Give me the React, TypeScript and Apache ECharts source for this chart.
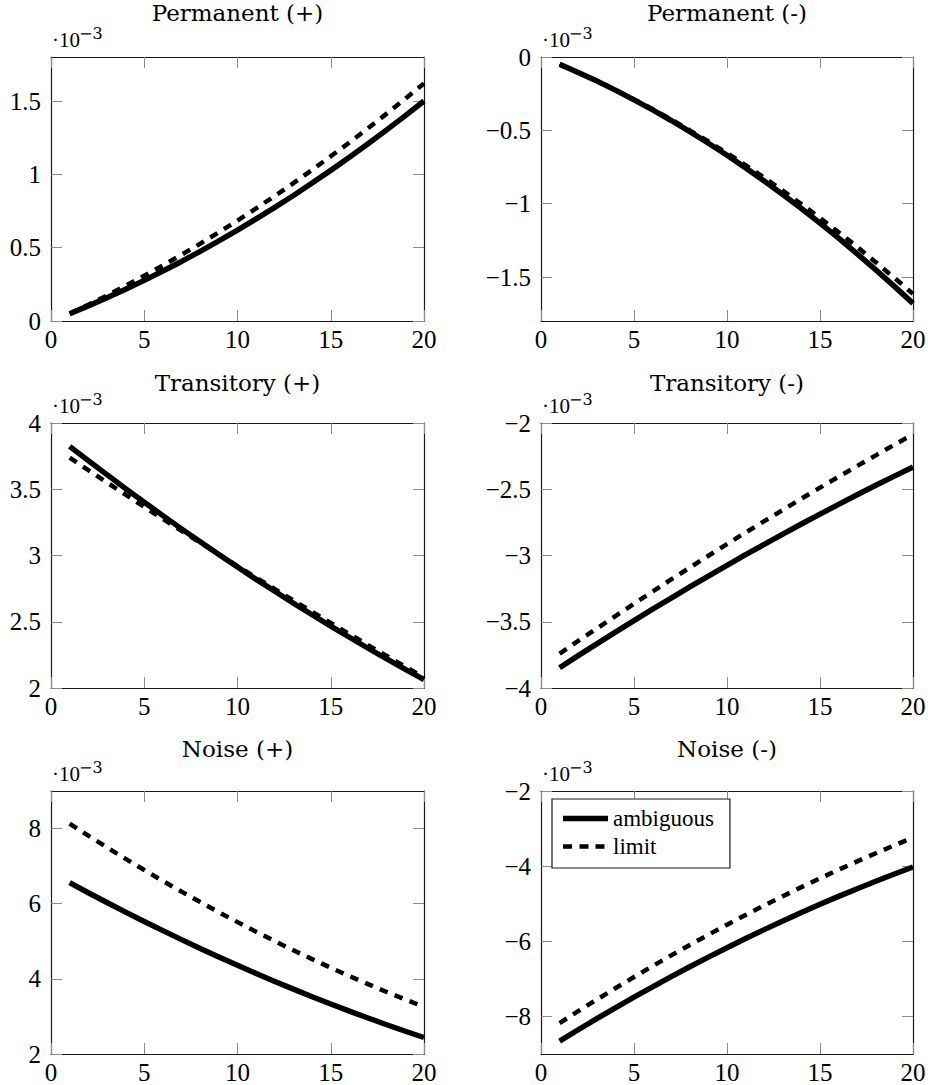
import React, { useEffect, useRef } from "react";
import * as echarts from "echarts";

// ---------- data (values in units of 10^-3) ----------
const xValues = [1, 2, 3, 4, 5, 6, 7, 8, 9, 10, 11, 12, 13, 14, 15, 16, 17, 18, 19, 20];
const xTicks = [0, 5, 10, 15, 20];

const titles = ["Permanent (+)", "Permanent (-)", "Transitory (+)", "Transitory (-)", "Noise (+)", "Noise (-)"];
const seriesNames = ["ambiguous", "limit"];

const permanentPosAmbiguous = [0.050, 0.103, 0.158, 0.217, 0.277, 0.341, 0.406, 0.475, 0.546, 0.620, 0.696, 0.775, 0.856, 0.941, 1.027, 1.117, 1.208, 1.303, 1.400, 1.500];
const permanentPosLimit = [0.050, 0.111, 0.174, 0.240, 0.308, 0.379, 0.452, 0.527, 0.605, 0.685, 0.768, 0.853, 0.940, 1.030, 1.123, 1.217, 1.314, 1.414, 1.516, 1.620];
const permanentNegAmbiguous = [-0.050, -0.105, -0.164, -0.226, -0.292, -0.361, -0.433, -0.509, -0.588, -0.670, -0.756, -0.845, -0.938, -1.033, -1.133, -1.235, -1.342, -1.451, -1.564, -1.680];
const permanentNegLimit = [-0.050, -0.105, -0.163, -0.224, -0.289, -0.356, -0.426, -0.500, -0.576, -0.655, -0.738, -0.823, -0.911, -1.003, -1.097, -1.195, -1.295, -1.399, -1.506, -1.615];
const transitoryPosAmbiguous = [3.824, 3.716, 3.610, 3.505, 3.402, 3.301, 3.201, 3.104, 3.008, 2.913, 2.820, 2.730, 2.640, 2.553, 2.467, 2.383, 2.300, 2.220, 2.141, 2.063];
const transitoryPosLimit = [3.738, 3.644, 3.551, 3.459, 3.367, 3.276, 3.186, 3.097, 3.008, 2.920, 2.833, 2.746, 2.660, 2.575, 2.491, 2.407, 2.324, 2.242, 2.161, 2.080];
const transitoryNegAmbiguous = [-3.847, -3.756, -3.667, -3.578, -3.491, -3.405, -3.321, -3.237, -3.155, -3.074, -2.994, -2.916, -2.838, -2.762, -2.688, -2.614, -2.542, -2.470, -2.401, -2.332];
const transitoryNegLimit = [-3.741, -3.645, -3.551, -3.457, -3.364, -3.272, -3.181, -3.091, -3.002, -2.914, -2.827, -2.741, -2.656, -2.571, -2.488, -2.406, -2.324, -2.244, -2.164, -2.086];
const noisePosAmbiguous = [6.560, 6.293, 6.032, 5.777, 5.527, 5.283, 5.044, 4.810, 4.582, 4.360, 4.143, 3.932, 3.726, 3.525, 3.331, 3.141, 2.958, 2.779, 2.606, 2.439];
const noisePosLimit = [8.130, 7.811, 7.499, 7.194, 6.896, 6.605, 6.321, 6.044, 5.773, 5.510, 5.253, 5.004, 4.761, 4.525, 4.296, 4.074, 3.859, 3.651, 3.449, 3.255];
const noiseNegAmbiguous = [-8.657, -8.355, -8.059, -7.770, -7.487, -7.211, -6.941, -6.678, -6.421, -6.171, -5.927, -5.690, -5.459, -5.234, -5.017, -4.805, -4.600, -4.402, -4.210, -4.024];
const noiseNegLimit = [-8.177, -7.861, -7.552, -7.249, -6.952, -6.661, -6.376, -6.098, -5.826, -5.560, -5.300, -5.047, -4.800, -4.559, -4.324, -4.095, -3.873, -3.657, -3.447, -3.243];

const ambiguousSeries = [permanentPosAmbiguous, permanentNegAmbiguous, transitoryPosAmbiguous, transitoryNegAmbiguous, noisePosAmbiguous, noiseNegAmbiguous];
const limitSeries = [permanentPosLimit, permanentNegLimit, transitoryPosLimit, transitoryNegLimit, noisePosLimit, noiseNegLimit];

const yMins = [0, -1.8, 2, -4, 2, -9];
const yMaxs = [1.8, 0, 4, -2, 9, -2];
const yTicks = [
  [0, 0.5, 1, 1.5],
  [-1.5, -1, -0.5, 0],
  [2, 2.5, 3, 3.5, 4],
  [-4, -3.5, -3, -2.5, -2],
  [2, 4, 6, 8],
  [-8, -6, -4, -2],
];

// ---------- layout / style ----------
const gridLefts = [51, 541];
const gridWidths = [373, 372];
const gridTops = [57, 423, 791];
const gridHeights = [264, 265, 263];
const titleTops = [1.2, 371.2, 737.2];

const SERIF = "Liberation Serif";
const TITLE_FONT = "DejaVu Serif";
const FRAME = "#1a1a1a";
const TICK = "#8a8a8a";

const fmt = (v: number) => {
  const s = String(Math.round(v * 1000) / 1000);
  return s.replace("-", "\u2212");
};

export default function App() {
  const ref = useRef<HTMLDivElement>(null);

  useEffect(() => {
    document.body.style.margin = "0";
    const chart = echarts.init(ref.current!, null, { renderer: "svg" });

    const grid: any[] = [];
    const xAxis: any[] = [];
    const yAxis: any[] = [];
    const series: any[] = [];
    const title: any[] = [];
    const graphic: any[] = [];

    titles.forEach((t, i) => {
      const col = i % 2;
      const row = Math.floor(i / 2);
      const left = gridLefts[col];
      const width = gridWidths[col];
      const top = gridTops[row];
      const height = gridHeights[row];

      grid.push({ left, top, width, height, containLabel: false, outerBoundsMode: "none", show: false });

      const axisLine = { show: true, onZero: false, lineStyle: { color: FRAME, width: 1.2 } };
      const axisTick = { show: true, inside: true, length: 11, lineStyle: { color: TICK, width: 1 } };
      const labelStyle = { fontFamily: SERIF, fontSize: 25, color: "#000", formatter: fmt };

      xAxis.push({
        gridIndex: i, type: "value", position: "bottom", min: 0, max: 20, interval: 5,
        axisLine, axisTick: { ...axisTick, customValues: xTicks },
        axisLabel: { ...labelStyle, margin: 6, customValues: xTicks, showMinLabel: true, showMaxLabel: true },
        splitLine: { show: false },
      });
      xAxis.push({
        gridIndex: i, type: "value", position: "top", min: 0, max: 20, interval: 5,
        axisLine, axisTick: { ...axisTick, customValues: xTicks },
        axisLabel: { show: false }, splitLine: { show: false },
      });
      yAxis.push({
        gridIndex: i, type: "value", position: "left", min: yMins[i], max: yMaxs[i],
        axisLine, axisTick: { ...axisTick, customValues: yTicks[i] },
        axisLabel: { ...labelStyle, margin: 10, customValues: yTicks[i], showMinLabel: true, showMaxLabel: true },
        splitLine: { show: false },
      });
      yAxis.push({
        gridIndex: i, type: "value", position: "right", min: yMins[i], max: yMaxs[i],
        axisLine, axisTick: { ...axisTick, customValues: yTicks[i] },
        axisLabel: { show: false }, splitLine: { show: false },
      });

      series.push({
        type: "line", name: seriesNames[0], xAxisIndex: 2 * i, yAxisIndex: 2 * i,
        data: xValues.map((x, k) => [x, ambiguousSeries[i][k]]),
        symbol: "none", smooth: false, silent: true, z: 3,
        lineStyle: { color: "#000", width: 5.5, cap: "butt", join: "round" },
        itemStyle: { color: "#000" },
      });
      series.push({
        type: "line", name: seriesNames[1], xAxisIndex: 2 * i, yAxisIndex: 2 * i,
        data: xValues.map((x, k) => [x, limitSeries[i][k]]),
        symbol: "none", smooth: false, silent: true, z: 4,
        lineStyle: { color: "#000", width: 4.5, type: [8.5, 7.5], cap: "butt", join: "round" },
        itemStyle: { color: "#000" },
      });

      title.push({
        text: t, left: left + width / 2, top: titleTops[row], textAlign: "center", padding: 0,
        textStyle: { fontFamily: TITLE_FONT, fontSize: 23, fontWeight: "normal", color: "#000" },
      });

      graphic.push({
        type: "text", x: left + 1, y: top - 17.2, silent: true,
        style: { text: "\u00B710", fontFamily: SERIF, fontSize: 21, fill: "#000", align: "left", verticalAlign: "middle" },
      });
      graphic.push({
        type: "text", x: left + 28, y: top - 23.5, silent: true,
        style: { text: "\u22123", fontFamily: TITLE_FONT, fontSize: 16, fill: "#000", align: "left", verticalAlign: "middle" },
      });
    });

    chart.setOption({
      animation: false,
      backgroundColor: "#fff",
      title,
      grid,
      xAxis,
      yAxis,
      series,
      graphic,
      legend: {
        data: [
          { name: seriesNames[0], icon: "path://M0,0H45V5.5H0Z", itemStyle: { color: "#000" } },
          {
            name: seriesNames[1],
            icon: "path://M0,0H9V4.5H0Z M16.5,0H25.5V4.5H16.5Z M32.5,0H41.5V4.5H32.5Z M44.9,0H45V4.5H44.9Z",
            itemStyle: { color: "#000" },
          },
        ],
        orient: "vertical",
        left: 552,
        top: 799,
        padding: [8, 16, 10, 11],
        itemWidth: 45,
        itemHeight: 5.5,
        itemGap: 5,
        symbolKeepAspect: true,
        borderColor: FRAME,
        borderWidth: 1.2,
        borderRadius: 0,
        backgroundColor: "#fff",
        selectedMode: false,
        textStyle: { fontFamily: SERIF, fontSize: 23, color: "#000" },
        z: 10,
      },
    });

    return () => chart.dispose();
  }, []);

  return <div ref={ref} style={{ width: 928, height: 1085 }} />;
}
